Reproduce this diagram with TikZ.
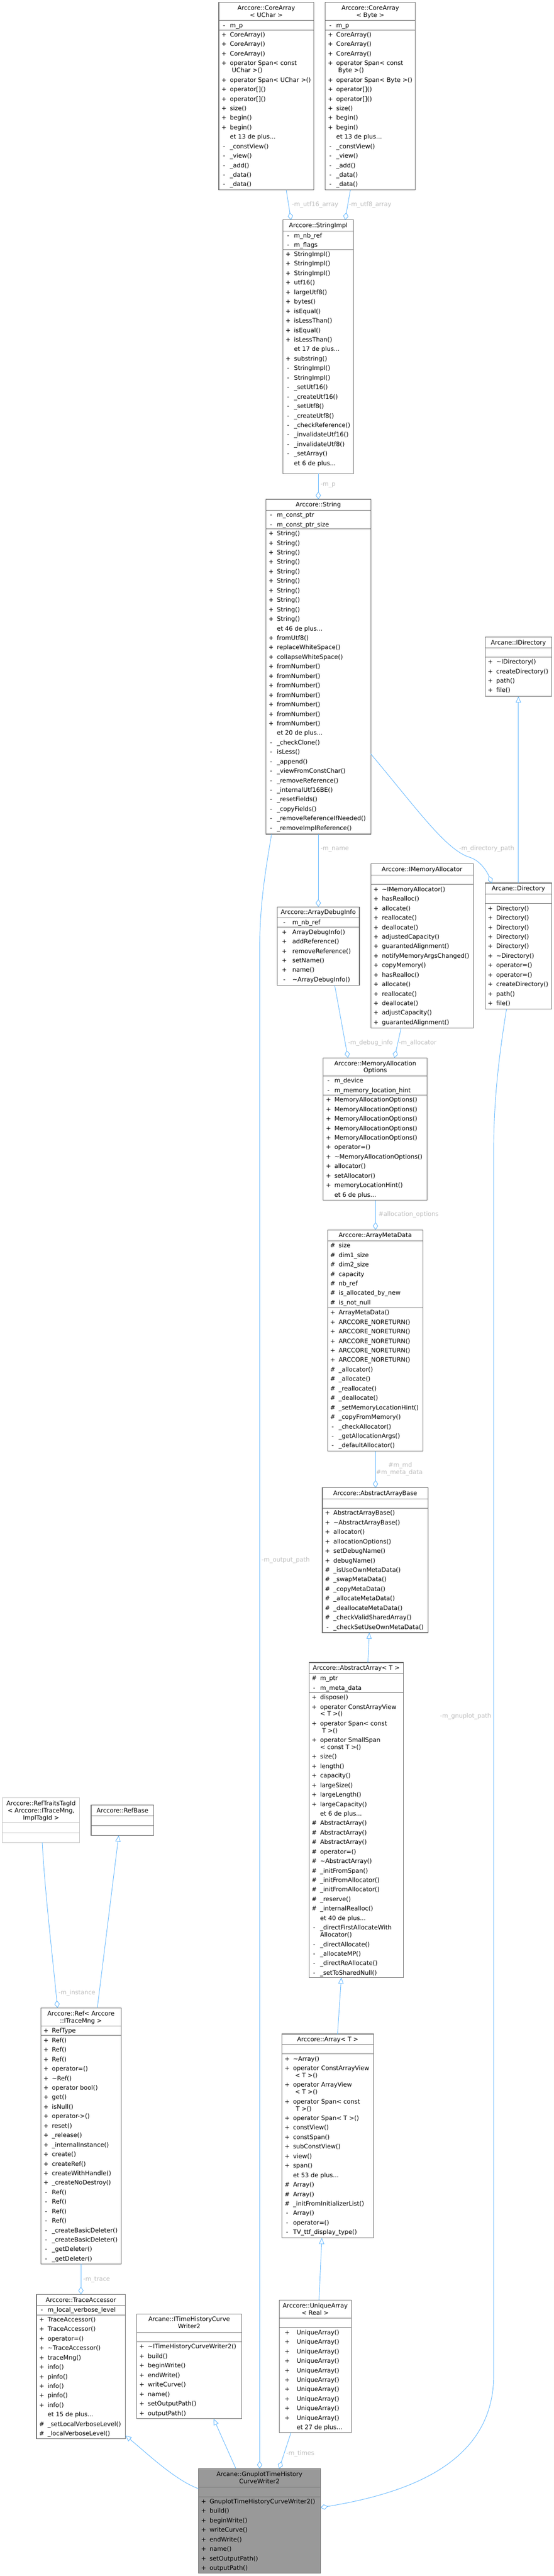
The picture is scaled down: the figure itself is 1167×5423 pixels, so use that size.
\documentclass[tikz,border=0pt]{standalone}
\usepackage{fontspec}
\setmainfont{DejaVu Sans}
\usetikzlibrary{arrows.meta}
\definecolor{edgec}{HTML}{63B8FF}
\definecolor{bordc}{HTML}{6E6E6E}
\definecolor{lblc}{HTML}{BEBEBE}
\definecolor{focusc}{HTML}{999999}
\definecolor{ghostc}{HTML}{BFBFBF}
\newcommand\ddd{...}
\def\signoff{11}\def\textoff{23.5}
\newcommand\rows[3]{%
  \pgfmathsetmacro\rowy{#2-10}\xdef\rowy{\rowy}%
  \foreach \sg/\tx in {#3}{%
    \if\sg c%
      \pgfmathsetmacro\rowy{\rowy+15}\xdef\rowy{\rowy}%
    \else
      \pgfmathsetmacro\rowy{\rowy+20}\xdef\rowy{\rowy}%
      \if\sg n\else\node[txt,anchor=base] at ({#1+\signoff},{\rowy+4.6}) {\sg};\fi
    \fi
    \node[txt,anchor=base west] at ({#1+\textoff},{\rowy+4.6}) {\tx};
  }%
}
\newcommand\ubox[6][]{\node[box,#1,minimum width={#5-#3},minimum height={#6-#4}] (#2) at (#3,#4) {};}
\newcommand\usep[4][]{\draw[sepl,#1] (#2,#4) -- (#3,#4);}
\newcommand\ttl[3]{\node[txt,anchor=base] at (#1,{#2+11.5+4.6}) {#3};}
\newcommand\ttlb[4]{\ttl{#1}{#2}{#3}\node[txt,anchor=base] at (#1,{#2+26.5+4.6}) {#4};}
\begin{document}
\begin{tikzpicture}[x=1pt,y=-1pt,
  font=\fontsize{12.8}{15}\selectfont,
  box/.style={draw=bordc,line width=1.2pt,fill=white,inner sep=0pt,outer sep=0pt,anchor=north west},
  sepl/.style={draw=bordc,line width=0.8pt},
  txt/.style={inner sep=0pt,outer sep=0pt},
  lbl/.style={inner sep=0pt,text=lblc},
  usage/.style={draw=edgec,line width=1pt,-{Diamond[open,length=16pt,width=11pt,line width=1pt]}},
  inherit/.style={draw=edgec,line width=1pt,-{Triangle[open,length=13pt,width=11pt,line width=1pt]}}]
\fill[white] (0,0) rectangle (1167,5423);
\path[use as bounding box] (0,0) rectangle (1167,5423);

% ---------- CoreArray<UChar>
\ubox{CAU}{461}{5}{661}{400}
\ttlb{561}{5}{Arccore::CoreArray}{< UChar >}
\usep{461}{661}{43}\usep{461}{661}{63}
\rows{461}{43}{-/m\_p}
\rows{461}{63}{+/CoreArray(), +/CoreArray(), +/CoreArray(), +/operator Span< const, c/\hspace*{4pt}UChar >(), +/operator Span< UChar >(), +/operator[](), +/operator[](), +/size(), +/begin(), +/begin(), n/et 13 de plus\ddd, -/\_constView(), -/\_view(), -/\_add(), -/\_data(), -/\_data()}

% ---------- CoreArray<Byte>
\ubox{CAB}{685}{5}{875}{400}
\ttlb{780}{5}{Arccore::CoreArray}{< Byte >}
\usep{685}{875}{43}\usep{685}{875}{63}
\rows{685}{43}{-/m\_p}
\rows{685}{63}{+/CoreArray(), +/CoreArray(), +/CoreArray(), +/operator Span< const, c/\hspace*{4pt}Byte >(), +/operator Span< Byte >(), +/operator[](), +/operator[](), +/size(), +/begin(), +/begin(), n/et 13 de plus\ddd, -/\_constView(), -/\_view(), -/\_add(), -/\_data(), -/\_data()}

% ---------- StringImpl
\ubox{SI}{596}{463}{745}{997}
\ttl{670.5}{463}{Arccore::StringImpl}
\usep{596}{745}{486}\usep{596}{745}{525}
\rows{596}{486}{-/m\_nb\_ref, -/m\_flags}
\rows{596}{525}{+/StringImpl(), +/StringImpl(), +/StringImpl(), +/utf16(), +/largeUtf8(), +/bytes(), +/isEqual(), +/isLessThan(), +/isEqual(), +/isLessThan(), n/et 17 de plus\ddd, +/substring(), -/StringImpl(), -/StringImpl(), -/\_setUtf16(), -/\_createUtf16(), -/\_setUtf8(), -/\_createUtf8(), -/\_checkReference(), -/\_invalidateUtf16(), -/\_invalidateUtf8(), -/\_setArray(), n/et 6 de plus\ddd}

% ---------- String
\ubox{STR}{560}{1051}{781}{1756}
\ttl{670.5}{1051}{Arccore::String}
\usep{560}{781}{1074}\usep{560}{781}{1113}
\rows{560}{1074}{-/m\_const\_ptr, -/m\_const\_ptr\_size}
\rows{560}{1113}{+/String(), +/String(), +/String(), +/String(), +/String(), +/String(), +/String(), +/String(), +/String(), +/String(), n/et 46 de plus\ddd, +/fromUtf8(), +/replaceWhiteSpace(), +/collapseWhiteSpace(), +/fromNumber(), +/fromNumber(), +/fromNumber(), +/fromNumber(), +/fromNumber(), +/fromNumber(), +/fromNumber(), n/et 20 de plus\ddd, -/\_checkClone(), -/isLess(), -/\_append(), -/\_viewFromConstChar(), -/\_removeReference(), -/\_internalUtf16BE(), -/\_resetFields(), -/\_copyFields(), -/\_removeReferenceIfNeeded(), -/\_removeImplReference()}

% ---------- IDirectory
\ubox{IDIR}{1022}{1341}{1162}{1466}
\ttl{1092}{1341}{Arcane::IDirectory}
\usep{1022}{1162}{1364}\usep{1022}{1162}{1383}
\rows{1022}{1383}{+/\textasciitilde{}IDirectory(), +/createDirectory(), +/path(), +/file()}

% ---------- Directory
\ubox{DIR}{1022}{1859}{1162}{2124}
\ttl{1092}{1859}{Arcane::Directory}
\usep{1022}{1162}{1882}\usep{1022}{1162}{1902}
\rows{1022}{1902}{+/Directory(), +/Directory(), +/Directory(), +/Directory(), +/Directory(), +/\textasciitilde{}Directory(), +/operator=(), +/operator=(), +/createDirectory(), +/path(), +/file()}

% ---------- IMemoryAllocator
\ubox{IMA}{781}{1818}{997}{2164}
\ttl{889}{1818}{Arccore::IMemoryAllocator}
\usep{781}{997}{1842}\usep{781}{997}{1862}
\rows{781}{1862}{+/\textasciitilde{}IMemoryAllocator(), +/hasRealloc(), +/allocate(), +/reallocate(), +/deallocate(), +/adjustedCapacity(), +/guarantedAlignment(), +/notifyMemoryArgsChanged(), +/copyMemory(), +/hasRealloc(), +/allocate(), +/reallocate(), +/deallocate(), +/adjustCapacity(), +/guarantedAlignment()}

% ---------- ArrayDebugInfo
\ubox{ADI}{584}{1909}{757}{2074}
\ttl{670.5}{1909}{Arccore::ArrayDebugInfo}
\usep{584}{757}{1932}\usep{584}{757}{1952}
\def\signoff{15}\def\textoff{32}
\rows{584}{1932}{-/m\_nb\_ref}
\rows{584}{1952}{+/ArrayDebugInfo(), +/addReference(), +/removeReference(), +/setName(), +/name(), -/\textasciitilde{}ArrayDebugInfo()}
\def\signoff{11}\def\textoff{23.5}

% ---------- MemoryAllocationOptions
\ubox{MAO}{681}{2227}{900}{2527}
\ttlb{790.5}{2227}{Arccore::MemoryAllocation}{Options}
\usep{681}{900}{2265}\usep{681}{900}{2305}
\rows{681}{2265}{-/m\_device, -/m\_memory\_location\_hint}
\rows{681}{2305}{+/MemoryAllocationOptions(), +/MemoryAllocationOptions(), +/MemoryAllocationOptions(), +/MemoryAllocationOptions(), +/MemoryAllocationOptions(), +/operator=(), +/\textasciitilde{}MemoryAllocationOptions(), +/allocator(), +/setAllocator(), +/memoryLocationHint(), n/et 6 de plus\ddd}

% ---------- ArrayMetaData
\ubox{AMD}{690}{2589}{891}{3055}
\ttl{790.5}{2589}{Arccore::ArrayMetaData}
\usep{690}{891}{2612}\usep{690}{891}{2753}
\rows{690}{2612}{\#/size, \#/dim1\_size, \#/dim2\_size, \#/capacity, \#/nb\_ref, \#/is\_allocated\_by\_new, \#/is\_not\_null}
\rows{690}{2753}{+/ArrayMetaData(), +/ARCCORE\_NORETURN(), +/ARCCORE\_NORETURN(), +/ARCCORE\_NORETURN(), +/ARCCORE\_NORETURN(), +/ARCCORE\_NORETURN(), \#/\_allocator(), \#/\_allocate(), \#/\_reallocate(), \#/\_deallocate(), \#/\_setMemoryLocationHint(), \#/\_copyFromMemory(), -/\_checkAllocator(), -/\_getAllocationArgs(), -/\_defaultAllocator()}

% ---------- AbstractArrayBase
\ubox{AAB}{679}{3132}{902}{3437}
\ttl{790.5}{3132}{Arccore::AbstractArrayBase}
\usep{679}{902}{3155}\usep{679}{902}{3175}
\rows{679}{3175}{+/AbstractArrayBase(), +/\textasciitilde{}AbstractArrayBase(), +/allocator(), +/allocationOptions(), +/setDebugName(), +/debugName(), \#/\_isUseOwnMetaData(), \#/\_swapMetaData(), \#/\_copyMetaData(), \#/\_allocateMetaData(), \#/\_deallocateMetaData(), \#/\_checkValidSharedArray(), -/\_checkSetUseOwnMetaData()}

% ---------- AbstractArray<T>
\ubox{AA}{651}{3500}{850}{4163}
\ttl{750.5}{3500}{Arccore::AbstractArray< T >}
\usep{651}{850}{3523}\usep{651}{850}{3563}
\rows{651}{3523}{\#/m\_ptr, -/m\_meta\_data}
\rows{651}{3563}{+/dispose(), +/operator ConstArrayView, c/< T >(), +/operator Span< const, c/\hspace*{4pt}T >(), +/operator SmallSpan, c/< const T >(), +/size(), +/length(), +/capacity(), +/largeSize(), +/largeLength(), +/largeCapacity(), n/et 6 de plus\ddd, \#/AbstractArray(), \#/AbstractArray(), \#/AbstractArray(), \#/operator=(), \#/\textasciitilde{}AbstractArray(), \#/\_initFromSpan(), \#/\_initFromAllocator(), \#/\_initFromAllocator(), \#/\_reserve(), \#/\_internalRealloc(), n/et 40 de plus\ddd, -/\_directFirstAllocateWith, c/Allocator(), -/\_directAllocate(), -/\_allocateMP(), -/\_directReAllocate(), -/\_setToSharedNull()}

% ---------- Array<T>
\ubox{ARR}{594}{4282}{787}{4711}
\ttl{690.5}{4282}{Arccore::Array< T >}
\usep{594}{787}{4304}\usep{594}{787}{4324}
\rows{594}{4324}{+/\textasciitilde{}Array(), +/operator ConstArrayView, c/\hspace*{4pt}< T >(), +/operator ArrayView, c/\hspace*{4pt}< T >(), +/operator Span< const, c/\hspace*{6pt}T >(), +/operator Span< T >(), +/constView(), +/constSpan(), +/subConstView(), +/view(), +/span(), n/et 53 de plus\ddd, \#/Array(), \#/Array(), \#/\_initFromInitializerList(), -/Array(), -/operator=(), -/TV\_ttf\_display\_type()}

% ---------- UniqueArray<Real>
\ubox{UA}{588}{4842}{740}{5121}
\ttlb{664}{4842}{Arccore::UniqueArray}{< Real >}
\usep{588}{740}{4880}\usep{588}{740}{4900}
\def\signoff{17}\def\textoff{37}
\rows{588}{4900}{+/UniqueArray(), +/UniqueArray(), +/UniqueArray(), +/UniqueArray(), +/UniqueArray(), +/UniqueArray(), +/UniqueArray(), +/UniqueArray(), +/UniqueArray(), +/UniqueArray(), n/et 27 de plus\ddd}
\def\signoff{11}\def\textoff{23.5}

% ---------- ITimeHistoryCurveWriter2
\ubox{ITH}{288}{4871}{509}{5092}
\ttlb{398.5}{4871}{Arcane::ITimeHistoryCurve}{Writer2}
\usep{288}{509}{4910}\usep{288}{509}{4930}
\rows{288}{4930}{+/\textasciitilde{}ITimeHistoryCurveWriter2(), +/build(), +/beginWrite(), +/endWrite(), +/writeCurve(), +/name(), +/setOutputPath(), +/outputPath()}

% ---------- GnuplotTimeHistoryCurveWriter2
\ubox[fill=focusc]{GNU}{418}{5197}{675}{5417}
\ttlb{546.5}{5197}{Arcane::GnuplotTimeHistory}{CurveWriter2}
\usep{418}{675}{5236}\usep{418}{675}{5256}
\rows{418}{5256}{+/GnuplotTimeHistoryCurveWriter2(), +/build(), +/beginWrite(), +/writeCurve(), +/endWrite(), +/name(), +/setOutputPath(), +/outputPath()}

% ---------- TraceAccessor
\ubox{TA}{77}{4830}{264}{5134}
\ttl{170.5}{4830}{Arccore::TraceAccessor}
\usep{77}{264}{4853}\usep{77}{264}{4873}
\rows{77}{4853}{-/m\_local\_verbose\_level}
\rows{77}{4873}{+/TraceAccessor(), +/TraceAccessor(), +/operator=(), +/\textasciitilde{}TraceAccessor(), +/traceMng(), +/info(), +/pinfo(), +/info(), +/pinfo(), +/info(), n/et 15 de plus\ddd, \#/\_setLocalVerboseLevel(), \#/\_localVerboseLevel()}

% ---------- Ref<ITraceMng>
\ubox{REF}{86}{4227}{255}{4766}
\ttlb{170.5}{4227}{Arccore::Ref< Arccore}{::ITraceMng >}
\usep{86}{255}{4265}\usep{86}{255}{4285}
\rows{86}{4265}{+/RefType}
\rows{86}{4285}{+/Ref(), +/Ref(), +/Ref(), +/operator=(), +/\textasciitilde{}Ref(), +/operator bool(), +/get(), +/isNull(), +/operator->(), +/reset(), +/\_release(), +/\_internalInstance(), +/create(), +/createRef(), +/createWithHandle(), +/\_createNoDestroy(), -/Ref(), -/Ref(), -/Ref(), -/Ref(), -/\_createBasicDeleter(), -/\_createBasicDeleter(), -/\_getDeleter(), -/\_getDeleter()}

% ---------- RefTraitsTagId
\ubox[draw=ghostc]{RTT}{5}{3785}{168}{3879}
\ttlb{86.5}{3785}{Arccore::RefTraitsTagId}{< Arccore::ITraceMng,}
\node[txt,anchor=base] at (86.5,{3785+41.5+4.6}) {ImplTagId >};
\usep[draw=ghostc]{5}{168}{3837}\usep[draw=ghostc]{5}{168}{3858}

% ---------- RefBase
\ubox{RB}{192}{3800}{324}{3864}
\ttl{258}{3800}{Arccore::RefBase}
\usep{192}{324}{3823}\usep{192}{324}{3843}

% ================= connectors
\draw[usage] (603,0 |- CAU.south) -- (613,0 |- SI.north);
\draw[usage] (738,0 |- CAB.south) -- (727,0 |- SI.north);
\draw[usage] (SI.south) -- (STR.north);
\draw[usage] (STR.south) -- (ADI.north);
\draw[usage] (STR.east |- 0,1587) .. controls (880,1705) and (940,1790) .. (990,1805) .. controls (1012,1812) and (1026,1835) .. (1036,0 |- DIR.north);
\draw[usage] (572,0 |- STR.south) .. controls (560,1830) and (547,1900) .. (547,2000) -- (547,0 |- GNU.north);
\draw[usage] (1067,0 |- DIR.south) .. controls (1055,2200) and (1040,2300) .. (1040,2420) -- (1040,5000) .. controls (1040,5190) and (850,5250) .. (GNU.east |- 0,5279);
\draw[inherit] (DIR.north) -- (IDIR.south);
\draw[usage] (705,0 |- ADI.south) -- (733,0 |- MAO.north);
\draw[usage] (845,0 |- IMA.south) -- (831,0 |- MAO.north);
\draw[usage] (791,0 |- MAO.south) -- (791,0 |- AMD.north);
\draw[usage] (791,0 |- AMD.south) -- (791,0 |- AAB.north);
\draw[inherit] (775,0 |- AA.north) -- (778,0 |- AAB.south);
\draw[inherit] (711,0 |- ARR.north) -- (719,0 |- AA.south);
\draw[inherit] (672,0 |- UA.north) -- (678,0 |- ARR.south);
\draw[usage] (89,0 |- RTT.south) .. controls (95,3990) and (112,4130) .. (121,0 |- REF.north);
\draw[inherit] (205,0 |- REF.north) -- (250,0 |- RB.south);
\draw[usage] (REF.south) -- (TA.north);
\draw[inherit] (GNU.west |- 0,5239) .. controls (370,5222) and (310,5165) .. (TA.east |- 0,5127);
\draw[inherit] (497,0 |- GNU.north) -- (450,0 |- ITH.south);
\draw[usage] (613,0 |- UA.south) -- (588,0 |- GNU.north);

% ================= labels
\node[lbl,anchor=base west] (Lutf16) at (615,434.6) {-m\_utf16\_array};
\node[lbl,anchor=base west] (Lutf8) at (735,434.6) {-m\_utf8\_array};
\node[lbl,anchor=base west] (Lp) at (675,1023.6) {-m\_p};
\node[lbl,anchor=base west] (Lname) at (675,1790.6) {-m\_name};
\node[lbl,anchor=base west] (Ldir) at (967,1790.6) {-m\_directory\_path};
\node[lbl,anchor=base west] (Ldbg) at (733,2198.6) {-m\_debug\_info};
\node[lbl,anchor=base west] (Lalloc) at (840,2198.6) {-m\_allocator};
\node[lbl,anchor=base west] (Lopt) at (797,2560.6) {\#allocation\_options};
\node[lbl,anchor=base] (Lmd) at (843,3088.6) {\#m\_md};
\node[lbl,anchor=base west] (Lmeta) at (792,3103.6) {\#m\_meta\_data};
\node[lbl,anchor=base west] (Lout) at (551,3287.6) {-m\_output\_path};
\node[lbl,anchor=base east] (Lgnu) at (1035,3616.6) {-m\_gnuplot\_path};
\node[lbl,anchor=base west] (Linst) at (123,4198.6) {-m\_instance};
\node[lbl,anchor=base west] (Ltrace) at (175,4801.6) {-m\_trace};
\node[lbl,anchor=base west] (Ltimes) at (603,5168.6) {-m\_times};
\end{tikzpicture}
\end{document}
